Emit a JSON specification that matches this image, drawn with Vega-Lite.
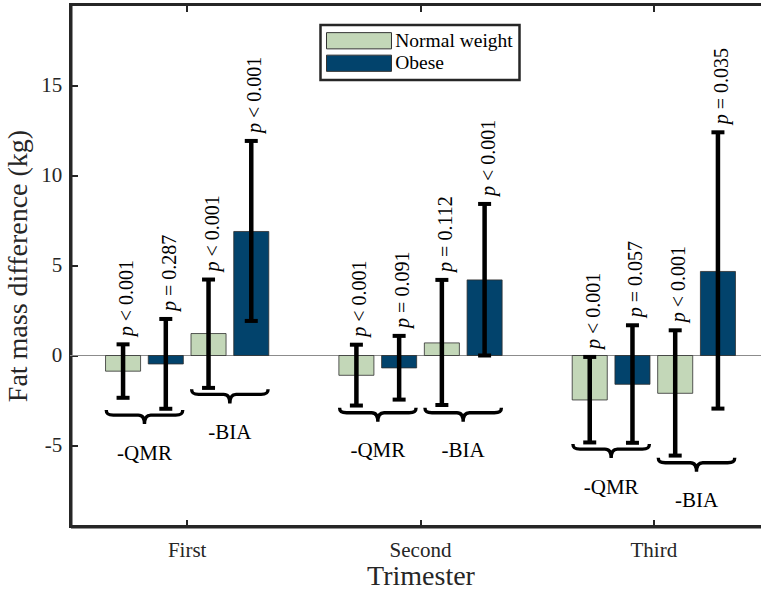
{
  "$schema": "https://vega.github.io/schema/vega-lite/v6.json",
  "width": 700,
  "height": 522,
  "autosize": {"type": "none"},
  "padding": {"left": 70.5, "top": 4.5, "right": 0, "bottom": 69.5},
  "background": "white",
  "config": {
    "view": {"stroke": "#262626", "strokeWidth": 3},
    "font": "Liberation Serif",
    "axis": {"labelFont": "Liberation Serif", "titleFont": "Liberation Serif"},
    "text": {"font": "Liberation Serif"},
    "legend": {
      "orient": "none",
      "legendX": 250,
      "legendY": 20.5,
      "strokeColor": "#262626",
      "strokeWidth": 2.5,
      "fillColor": "white",
      "padding": 6,
      "symbolType": "M-4,-1H4V1H-4Z",
      "symbolSize": 264,
      "symbolOffset": 22.75,
      "labelOffset": 26.5,
      "symbolStrokeColor": "#333333",
      "symbolStrokeWidth": 1,
      "symbolOpacity": 1,
      "labelFont": "Liberation Serif",
      "labelFontSize": 19.5,
      "labelColor": "black",
      "rowPadding": 1.5
    }
  },
  "datasets": {
    "bars": [
      {"trimester": "First", "series": "NW-QMR", "group": "Normal weight", "mean": -0.87, "lo": -2.35, "hi": 0.62, "ptext": "< 0.001"},
      {"trimester": "First", "series": "Ob-QMR", "group": "Obese", "mean": -0.47, "lo": -2.96, "hi": 2.03, "ptext": "= 0.287"},
      {"trimester": "First", "series": "NW-BIA", "group": "Normal weight", "mean": 1.22, "lo": -1.8, "hi": 4.22, "ptext": "< 0.001"},
      {"trimester": "First", "series": "Ob-BIA", "group": "Obese", "mean": 6.89, "lo": 1.92, "hi": 11.92, "ptext": "< 0.001"},
      {"trimester": "Second", "series": "NW-QMR", "group": "Normal weight", "mean": -1.1, "lo": -2.78, "hi": 0.6, "ptext": "< 0.001"},
      {"trimester": "Second", "series": "Ob-QMR", "group": "Obese", "mean": -0.69, "lo": -2.45, "hi": 1.09, "ptext": "= 0.091"},
      {"trimester": "Second", "series": "NW-BIA", "group": "Normal weight", "mean": 0.7, "lo": -2.75, "hi": 4.2, "ptext": "= 0.112"},
      {"trimester": "Second", "series": "Ob-BIA", "group": "Obese", "mean": 4.2, "lo": 0.0, "hi": 8.42, "ptext": "< 0.001"},
      {"trimester": "Third", "series": "NW-QMR", "group": "Normal weight", "mean": -2.47, "lo": -4.83, "hi": -0.08, "ptext": "< 0.001"},
      {"trimester": "Third", "series": "Ob-QMR", "group": "Obese", "mean": -1.6, "lo": -4.85, "hi": 1.68, "ptext": "= 0.057"},
      {"trimester": "Third", "series": "NW-BIA", "group": "Normal weight", "mean": -2.1, "lo": -5.56, "hi": 1.4, "ptext": "< 0.001"},
      {"trimester": "Third", "series": "Ob-BIA", "group": "Obese", "mean": 4.67, "lo": -2.95, "hi": 12.4, "ptext": "= 0.035"}
    ],
    "braces": [
      {"trimester": "First", "method": "QMR", "by": -3.03, "label": "-QMR"},
      {"trimester": "First", "method": "BIA", "by": -1.88, "label": "-BIA"},
      {"trimester": "Second", "method": "QMR", "by": -2.9, "label": "-QMR"},
      {"trimester": "Second", "method": "BIA", "by": -2.9, "label": "-BIA"},
      {"trimester": "Third", "method": "QMR", "by": -4.92, "label": "-QMR"},
      {"trimester": "Third", "method": "BIA", "by": -5.68, "label": "-BIA"}
    ]
  },
  "data": {"name": "bars"},
  "resolve": {"scale": {"xOffset": "independent"}, "axis": {"x": "independent"}},
  "layer": [
    {
      "mark": {"type": "rule", "color": "#8c8c8c", "strokeWidth": 1},
      "encoding": {
        "y": {"datum": 0, "type": "quantitative", "title": "Fat mass difference (kg)"}
      }
    },
    {
      "mark": {"type": "bar", "stroke": "#2e2e2e", "strokeWidth": 0.8},
      "encoding": {
        "x": {
          "field": "trimester", "type": "nominal", "sort": ["First", "Second", "Third"],
          "scale": {"paddingInner": 0, "paddingOuter": 0},
          "axis": {
            "orient": "bottom", "labelAngle": 0, "tickSize": -7, "tickWidth": 2, "tickColor": "#262626",
            "domainWidth": 3, "domainColor": "#262626", "labelPadding": 19.5,
            "labelFont": "Liberation Serif", "labelFontSize": 21, "labelColor": "#262626",
            "title": "Trimester", "titleFont": "Liberation Serif", "titleFontSize": 28,
            "titleFontWeight": "normal", "titleColor": "#262626", "titlePadding": 2
          }
        },
        "xOffset": {
          "field": "series", "type": "nominal",
          "scale": {"type": "band", "domain": ["NW-QMR", "Ob-QMR", "NW-BIA", "Ob-BIA"], "paddingInner": 0.18, "paddingOuter": 0.82}
        },
        "y": {
          "field": "mean", "type": "quantitative", "title": "Fat mass difference (kg)",
          "scale": {"domain": [-9.5, 19.5], "nice": false},
          "axis": {
            "values": [-5, 0, 5, 10, 15], "labelExpr": "'' + datum.value", "grid": false,
            "tickSize": -7, "tickWidth": 2, "tickColor": "#262626",
            "domainWidth": 3, "domainColor": "#262626", "labelPadding": 15.8,
            "labelFont": "Liberation Serif", "labelFontSize": 21, "labelColor": "#262626",
            "titleFont": "Liberation Serif", "titleFontSize": 28, "titleFontWeight": "normal",
            "titleColor": "#262626", "titlePadding": 8.5
          }
        },
        "fill": {
          "field": "group", "type": "nominal",
          "scale": {"domain": ["Normal weight", "Obese"], "range": ["#c3d7b8", "#02436c"]},
          "legend": {"title": null}
        }
      }
    },
    {
      "mark": {"type": "rule", "color": "black", "strokeWidth": 4.5},
      "encoding": {
        "x": {
          "field": "trimester", "type": "nominal", "sort": ["First", "Second", "Third"],
          "axis": {"orient": "top", "labels": false, "domain": false, "title": null, "tickSize": -7, "tickWidth": 2, "tickColor": "#262626"}
        },
        "xOffset": {
          "field": "series", "type": "nominal",
          "scale": {"type": "band", "domain": ["NW-QMR", "Ob-QMR", "NW-BIA", "Ob-BIA"], "paddingInner": 0.18, "paddingOuter": 0.82}
        },
        "y": {"field": "lo", "type": "quantitative", "title": "Fat mass difference (kg)"},
        "y2": {"field": "hi"}
      }
    },
    {
      "mark": {"type": "tick", "orient": "horizontal", "size": 13, "thickness": 4, "color": "black", "opacity": 1},
      "encoding": {
        "x": {"field": "trimester", "type": "nominal", "sort": ["First", "Second", "Third"], "axis": null},
        "xOffset": {
          "field": "series", "type": "nominal",
          "scale": {"type": "band", "domain": ["NW-QMR", "Ob-QMR", "NW-BIA", "Ob-BIA"], "paddingInner": 0.18, "paddingOuter": 0.82}
        },
        "y": {"field": "lo", "type": "quantitative", "title": "Fat mass difference (kg)"}
      }
    },
    {
      "mark": {"type": "tick", "orient": "horizontal", "size": 13, "thickness": 4, "color": "black", "opacity": 1},
      "encoding": {
        "x": {"field": "trimester", "type": "nominal", "sort": ["First", "Second", "Third"], "axis": null},
        "xOffset": {
          "field": "series", "type": "nominal",
          "scale": {"type": "band", "domain": ["NW-QMR", "Ob-QMR", "NW-BIA", "Ob-BIA"], "paddingInner": 0.18, "paddingOuter": 0.82}
        },
        "y": {"field": "hi", "type": "quantitative", "title": "Fat mass difference (kg)"}
      }
    },
    {
      "mark": {"type": "text", "text": "p", "font": "Liberation Serif", "fontStyle": "italic", "fontSize": 20, "angle": 270, "align": "left", "baseline": "alphabetic", "dx": 8, "dy": 10, "color": "black"},
      "encoding": {
        "x": {"field": "trimester", "type": "nominal", "sort": ["First", "Second", "Third"], "axis": null},
        "xOffset": {
          "field": "series", "type": "nominal",
          "scale": {"type": "band", "domain": ["NW-QMR", "Ob-QMR", "NW-BIA", "Ob-BIA"], "paddingInner": 0.18, "paddingOuter": 0.82}
        },
        "y": {"field": "hi", "type": "quantitative", "title": "Fat mass difference (kg)"}
      }
    },
    {
      "mark": {"type": "text", "font": "Liberation Serif", "fontSize": 20, "angle": 270, "align": "left", "baseline": "alphabetic", "dx": 23, "dy": 10, "color": "black"},
      "encoding": {
        "x": {"field": "trimester", "type": "nominal", "sort": ["First", "Second", "Third"], "axis": null},
        "xOffset": {
          "field": "series", "type": "nominal",
          "scale": {"type": "band", "domain": ["NW-QMR", "Ob-QMR", "NW-BIA", "Ob-BIA"], "paddingInner": 0.18, "paddingOuter": 0.82}
        },
        "y": {"field": "hi", "type": "quantitative", "title": "Fat mass difference (kg)"},
        "text": {"field": "ptext", "type": "nominal"}
      }
    },
    {
      "data": {"name": "braces"},
      "mark": {
        "type": "point",
        "shape": "M-0.98,0 C-0.98,0.1 -0.93,0.13 -0.8,0.13 L-0.16,0.13 C-0.05,0.13 0,0.2 0,0.36 C0,0.2 0.05,0.13 0.16,0.13 L0.8,0.13 C0.93,0.13 0.98,0.1 0.98,0",
        "size": 6084, "filled": false, "fill": null, "stroke": "black", "strokeWidth": 3.4, "opacity": 1
      },
      "encoding": {
        "x": {"field": "trimester", "type": "nominal", "sort": ["First", "Second", "Third"], "axis": null},
        "xOffset": {
          "field": "method", "type": "nominal",
          "scale": {"type": "band", "domain": ["QMR", "BIA"], "paddingInner": 0, "paddingOuter": 0.367}
        },
        "y": {"field": "by", "type": "quantitative", "title": "Fat mass difference (kg)"}
      }
    },
    {
      "data": {"name": "braces"},
      "mark": {"type": "text", "font": "Liberation Serif", "fontSize": 21, "align": "center", "baseline": "alphabetic", "dy": 49.5, "color": "black"},
      "encoding": {
        "x": {"field": "trimester", "type": "nominal", "sort": ["First", "Second", "Third"], "axis": null},
        "xOffset": {
          "field": "method", "type": "nominal",
          "scale": {"type": "band", "domain": ["QMR", "BIA"], "paddingInner": 0, "paddingOuter": 0.367}
        },
        "y": {"field": "by", "type": "quantitative", "title": "Fat mass difference (kg)"},
        "text": {"field": "label", "type": "nominal"}
      }
    }
  ]
}
